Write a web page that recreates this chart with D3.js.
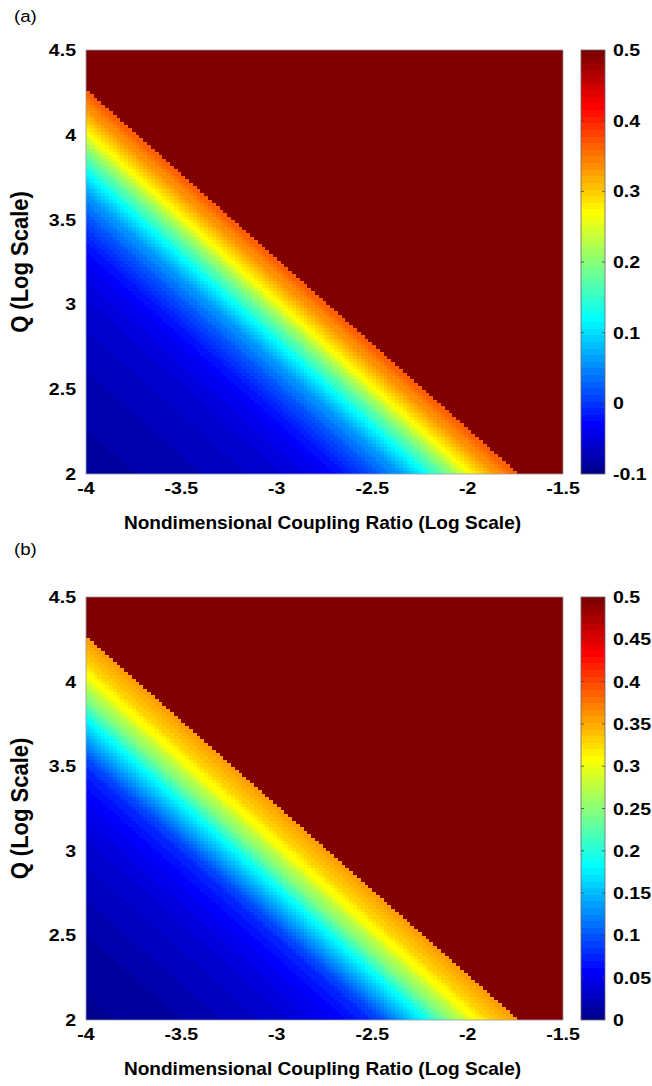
<!DOCTYPE html>
<html>
<head>
<meta charset="utf-8">
<script src="https://cdn.jsdelivr.net/npm/d3@7"></script>
<style>
  html, body { margin: 0; padding: 0; background: #fff; }
  svg { display: block; }
  text { font-family: "Liberation Sans", Arial, Helvetica, sans-serif; }
</style>
</head>
<body>
<svg id="chart" width="652" height="1086"></svg>
<script>
// ---------------- DATA ----------------
const xDomain = [-4, -1.5];
const yDomain = [2, 4.5];
const gridStep = 0.02;
const xTicks = [-4, -3.5, -3, -2.5, -2, -1.5];
const xTickLabels = ["-4", "-3.5", "-3", "-2.5", "-2", "-1.5"];
const yTicks = [2, 2.5, 3, 3.5, 4, 4.5];
const yTickLabels = ["2", "2.5", "3", "3.5", "4", "4.5"];

// Values constant along diagonals (column index + row index = k), k = 0 at bottom-left.
const saturatedValue = 0.5;
const profileA = [
  -0.088,-0.087,-0.087,-0.086,-0.086,-0.085,-0.085,-0.084,-0.084,-0.083,-0.083,-0.082,-0.082,-0.081,-0.081,-0.080,-0.080,-0.079,-0.079,-0.078,-0.077,-0.077,-0.076,-0.076,-0.075,
  -0.074,-0.074,-0.073,-0.072,-0.072,-0.071,-0.070,-0.069,-0.069,-0.068,-0.067,-0.066,-0.066,-0.065,-0.064,-0.063,-0.063,-0.062,-0.061,-0.060,-0.060,-0.059,-0.058,-0.058,-0.057,
  -0.055,-0.053,-0.052,-0.050,-0.048,-0.046,-0.045,-0.043,-0.041,-0.039,-0.038,-0.036,-0.034,
  -0.031,-0.027,-0.024,-0.020,-0.017,-0.013,-0.010,
  -0.005,0.000,0.005,0.010,0.015,
  0.021,0.027,0.033,0.039,0.045,
  0.052,0.059,0.067,0.075,
  0.085,0.094,0.104,0.114,0.124,0.134,
  0.145,0.157,0.169,0.180,0.192,0.203,
  0.215,0.230,0.245,0.258,0.270,0.281,0.291,0.300,0.309,0.317,0.325,0.333,0.340,0.347,0.354,0.361,0.368
];
const profileB = [
  0.005,0.005,0.006,0.006,0.007,0.007,0.007,0.008,0.008,0.009,0.009,0.009,0.010,0.010,0.011,0.011,0.011,0.012,0.012,0.013,0.013,0.013,0.014,0.014,0.015,
  0.016,0.017,0.017,0.018,0.019,0.020,0.021,0.021,0.022,0.023,0.024,0.025,0.025,0.026,0.027,0.028,0.029,0.029,0.030,0.031,0.032,0.033,0.033,0.034,0.035,
  0.036,0.037,0.038,0.040,0.041,0.042,0.043,0.044,0.045,0.047,0.048,0.049,0.050,
  0.052,0.055,0.057,0.060,0.062,0.065,0.067,0.070,0.072,0.075,0.077,0.080,
  0.086,0.092,0.098,0.104,0.110,
  0.118,0.126,0.134,0.142,0.150,
  0.159,0.168,0.176,0.185,
  0.195,0.205,0.215,
  0.225,0.235,0.245,0.255,0.265,
  0.273,0.281,0.289,0.297,0.305,
  0.311,0.317,0.323,0.329,0.335,
  0.339,0.343,0.347,0.350,0.354,0.357
];
const climA = [-0.1, 0.5];
const climB = [0, 0.5];
const cbTicksA = [-0.1, 0, 0.1, 0.2, 0.3, 0.4, 0.5];
const cbLabelsA = ["-0.1", "0", "0.1", "0.2", "0.3", "0.4", "0.5"];
const cbTicksB = [0, 0.05, 0.1, 0.15, 0.2, 0.25, 0.3, 0.35, 0.4, 0.45, 0.5];
const cbLabelsB = ["0", "0.05", "0.1", "0.15", "0.2", "0.25", "0.3", "0.35", "0.4", "0.45", "0.5"];
const xLabel = "Nondimensional Coupling Ratio (Log Scale)";
const yLabel = "Q (Log Scale)";

// ---------------- COLORMAP (MATLAB jet(64)) ----------------
function jet64() {
  const n = 64, m = 16;
  const u = [];
  for (let i = 1; i <= m; i++) u.push(i / m);
  for (let i = 0; i < m - 1; i++) u.push(1);
  for (let i = m; i >= 1; i--) u.push(i / m);
  const cols = [];
  for (let r = 1; r <= n; r++) {
    const R = (r - 24 >= 1 && r - 24 <= u.length) ? u[r - 25] : 0;
    const G = (r - 8 >= 1 && r - 8 <= u.length) ? u[r - 9] : 0;
    const B = (r + 8 >= 1 && r + 8 <= u.length) ? u[r + 7] : 0;
    cols.push(d3.rgb(R * 255, G * 255, B * 255).formatHex());
  }
  return cols;
}
const JET = jet64();
function colorFor(v, clim) {
  let idx = Math.floor((v - clim[0]) / (clim[1] - clim[0]) * 64);
  idx = Math.max(0, Math.min(63, idx));
  return JET[idx];
}

// ---------------- LAYOUT ----------------
const svg = d3.select("#chart");
const plotLeft = 86, plotRight = 563;
const cbLeft = 581, cbRight = 605;
const tickFont = 17, tickStretch = 1.15;
const xLabelFont = 17.5, xLabelStretch = 1.09;
const yLabelFont = 22, yLabelStretch = 1.05;
const panels = [
  { tag: "(a)", tagY: 22, top: 50, bottom: 474, profile: profileA, clim: climA, cbTicks: cbTicksA, cbLabels: cbLabelsA },
  { tag: "(b)", tagY: 555, top: 597, bottom: 1020, profile: profileB, clim: climB, cbTicks: cbTicksB, cbLabels: cbLabelsB }
];

const nCols = Math.round((xDomain[1] - xDomain[0]) / gridStep);
const nRows = Math.round((yDomain[1] - yDomain[0]) / gridStep);

function placed(sel, x, y, anchor, s) {
  return sel.attr("transform", `translate(${x},${y}) scale(${s},1)`)
    .attr("text-anchor", anchor);
}

panels.forEach(p => {
  const g = svg.append("g");
  const x = d3.scaleLinear().domain(xDomain).range([plotLeft, plotRight]);
  const y = d3.scaleLinear().domain(yDomain).range([p.bottom, p.top]);

  const cells = [];
  for (let i = 0; i < nCols; i++) {
    for (let j = 0; j < nRows; j++) {
      const k = i + j;
      const v = k < p.profile.length ? p.profile[k] : saturatedValue;
      cells.push({ x0: xDomain[0] + i * gridStep, y0: yDomain[0] + j * gridStep, v });
    }
  }
  g.append("g").attr("shape-rendering", "crispEdges")
    .selectAll("rect").data(cells).join("rect")
    .attr("x", d => x(d.x0))
    .attr("y", d => y(d.y0 + gridStep))
    .attr("width", d => x(d.x0 + gridStep) - x(d.x0) + 0.3)
    .attr("height", d => y(d.y0) - y(d.y0 + gridStep) + 0.3)
    .attr("fill", d => colorFor(d.v, p.clim));

  g.append("rect")
    .attr("x", plotLeft).attr("y", p.top)
    .attr("width", plotRight - plotLeft).attr("height", p.bottom - p.top)
    .attr("fill", "none").attr("stroke", "#9a9aa6").attr("stroke-width", 0.8);

  // x tick labels
  g.append("g").selectAll("text").data(xTicks).join("text")
    .each(function (d) { placed(d3.select(this), x(d), p.bottom + 20, "middle", tickStretch); })
    .attr("font-size", tickFont).attr("font-weight", "bold")
    .text((d, i) => xTickLabels[i]);

  // y tick labels
  g.append("g").selectAll("text").data(yTicks).join("text")
    .each(function (d) { placed(d3.select(this), plotLeft - 10, y(d) + 6, "end", tickStretch); })
    .attr("font-size", tickFont).attr("font-weight", "bold")
    .text((d, i) => yTickLabels[i]);

  // axis labels
  placed(g.append("text"), (plotLeft + plotRight) / 2 - 2, p.bottom + 55, "middle", xLabelStretch)
    .attr("font-size", xLabelFont).attr("font-weight", "bold")
    .text(xLabel);
  g.append("text")
    .attr("transform", `translate(28,${(p.top + p.bottom) / 2}) rotate(-90) scale(1,${yLabelStretch})`)
    .attr("text-anchor", "middle").attr("font-size", yLabelFont).attr("font-weight", "bold")
    .text(yLabel);

  // panel tag
  placed(g.append("text"), 14, p.tagY, "start", 1.1)
    .attr("font-size", 17).text(p.tag);

  // colorbar
  const cy = d3.scaleLinear().domain(p.clim).range([p.bottom, p.top]);
  const levels = d3.range(64);
  const lv = (p.clim[1] - p.clim[0]) / 64;
  g.append("g").attr("shape-rendering", "crispEdges")
    .selectAll("rect").data(levels).join("rect")
    .attr("x", cbLeft).attr("width", cbRight - cbLeft)
    .attr("y", d => cy(p.clim[0] + (d + 1) * lv))
    .attr("height", d => cy(p.clim[0] + d * lv) - cy(p.clim[0] + (d + 1) * lv) + 0.4)
    .attr("fill", d => JET[d]);
  g.append("rect")
    .attr("x", cbLeft).attr("y", p.top)
    .attr("width", cbRight - cbLeft).attr("height", p.bottom - p.top)
    .attr("fill", "none").attr("stroke", "#666").attr("stroke-width", 0.8);
  const tk = g.append("g").attr("stroke", "#444").attr("stroke-width", 0.8);
  tk.selectAll("line.l").data(p.cbTicks.slice(1, -1)).join("line")
    .attr("x1", cbLeft).attr("x2", cbLeft + 3).attr("y1", d => cy(d)).attr("y2", d => cy(d));
  tk.selectAll("line.r").data(p.cbTicks.slice(1, -1)).join("line").attr("class", "r")
    .attr("x1", cbRight - 3).attr("x2", cbRight).attr("y1", d => cy(d)).attr("y2", d => cy(d));
  g.append("g").selectAll("text").data(p.cbTicks).join("text")
    .each(function (d) { placed(d3.select(this), cbRight + 8, cy(d) + 6, "start", tickStretch); })
    .attr("font-size", tickFont).attr("font-weight", "bold")
    .text((d, i) => p.cbLabels[i]);
});
</script>
</body>
</html>
